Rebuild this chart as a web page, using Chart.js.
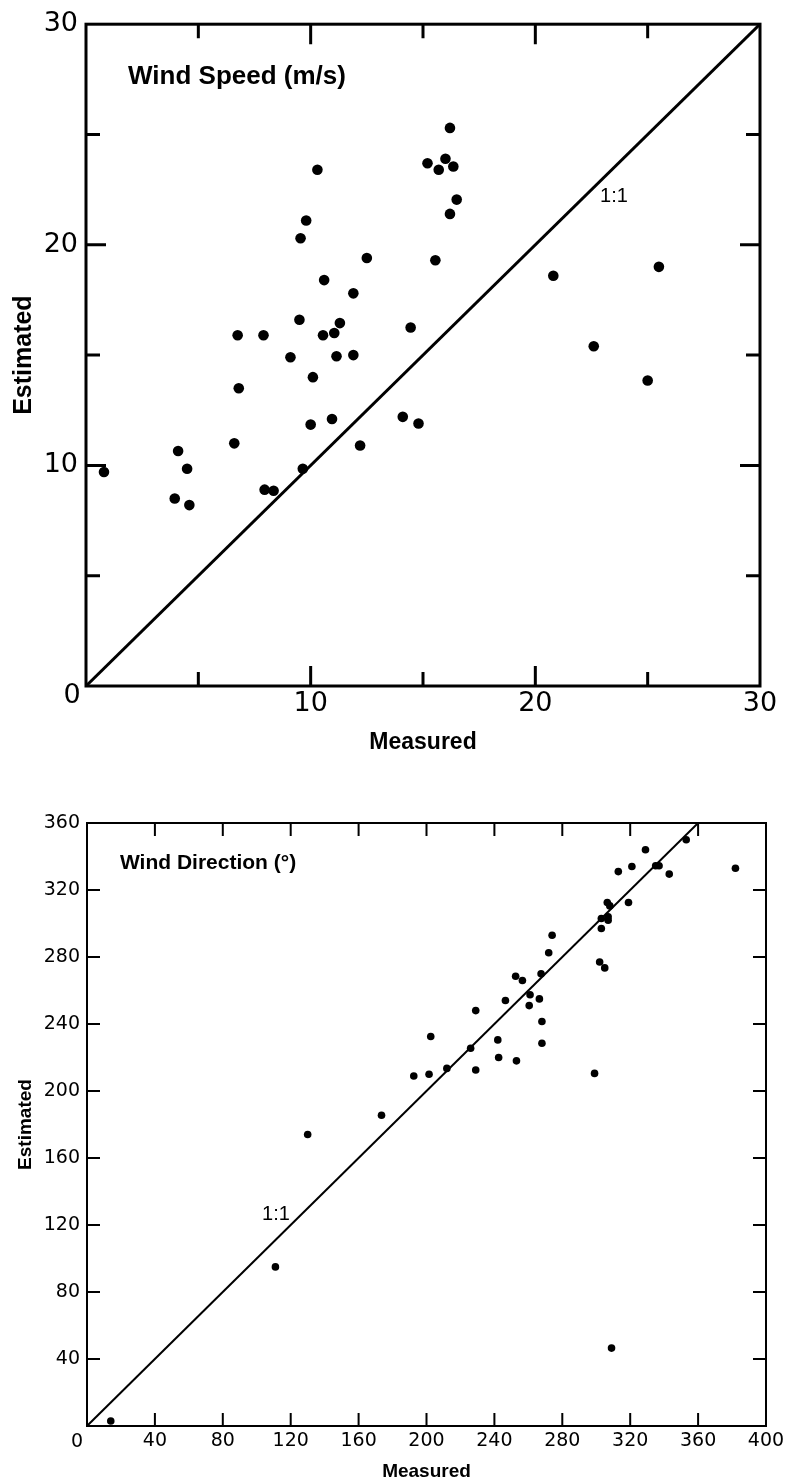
<!DOCTYPE html>
<html>
<head>
<meta charset="utf-8">
<title>Wind speed and direction: estimated vs measured</title>
<script src="https://cdn.jsdelivr.net/npm/chart.js@4.4.0/dist/chart.umd.min.js"></script>
<style>
    html, body { margin: 0; padding: 0; background: #fff; }
    body { width: 791px; height: 1481px; position: relative; overflow: hidden; }
    .panel { position: absolute; left: 0; width: 791px; }
    #speedPanel { top: 0; height: 760px; }
    #dirPanel { top: 760px; height: 721px; }
</style>
</head>
<body>
<div class="panel" id="speedPanel"><canvas id="speedChart"></canvas></div>
<div class="panel" id="dirPanel"><canvas id="dirChart"></canvas></div>
<script>
// Wind speed (m/s)
const speedMeasured = [
    10.3, 9.8, 9.55, 12.5, 10.6, 11.9, 9.5, 11.3, 11.05, 10.55, 6.75,
    7.9, 9.1, 11.15, 11.9, 10.1, 6.8, 10.95, 10.0, 14.1, 14.8, 6.6,
    12.2, 4.1, 4.5, 9.65, 0.8, 3.95, 4.6, 7.95, 8.35, 16.2, 15.2,
    16.0, 15.7, 16.35, 16.5, 16.2, 15.55, 14.45, 20.8, 25.5, 22.6, 25.0
];
const speedEstimated = [
    23.4, 21.1, 20.3, 19.4, 18.4, 17.8, 16.6, 16.45, 16.0, 15.9, 15.9,
    15.9, 14.9, 14.95, 15.0, 14.0, 13.5, 12.1, 11.85, 12.2, 11.9, 11.0,
    10.9, 10.65, 9.85, 9.85, 9.7, 8.5, 8.2, 8.9, 8.85, 25.3, 23.7,
    23.9, 23.4, 23.55, 22.05, 21.4, 19.3, 16.25, 18.6, 19.0, 15.4, 13.85
];
const speedTicks = [0, 10, 20, 30];
const speedMinorTicks = [5, 15, 25];
const speedOneToOne = [0, 30];

// Wind direction (degrees)
const dirMeasured = [
    353, 329, 321, 313, 335, 337, 343, 382, 306.5, 308, 319, 303, 307,
    307, 303, 302, 305, 299, 274, 272, 267.5, 252.5, 256.5, 261, 266.5,
    260.5, 268, 246.5, 229, 268, 242, 226, 242.5, 253, 229, 202.5, 212,
    201.5, 192.5, 173.5, 130, 111, 14, 309
];
const dirEstimated = [
    350, 344, 334, 331, 334.5, 334.5, 329.5, 333, 312.5, 310.5, 312.5, 303,
    304, 302, 297, 277, 273.5, 210.5, 293, 282.5, 270, 268.5, 266, 257.5,
    255, 251, 241.5, 254, 248, 228.5, 230.5, 225.5, 220, 218, 212.5, 232.5,
    213.5, 210, 209, 185.5, 174, 95, 3, 46.5
];
const dirXTicks = [0, 40, 80, 120, 160, 200, 240, 280, 320, 360, 400];
const dirYTicks = [0, 40, 80, 120, 160, 200, 240, 280, 320, 360];
const dirOneToOne = [0, 360];

/**
 * Frame, inward tick marks, in-plot texts and the shared corner "0"
 */
const frameAndTicks = {
    id: 'frameAndTicks',
    afterDraw(chart, args, opts) {
        const { ctx, chartArea: a, scales: { x, y } } = chart;
        ctx.save();
        ctx.strokeStyle = '#000';
        ctx.fillStyle = '#000';
        ctx.lineWidth = opts.lineWidth;
        ctx.lineCap = 'square';
        ctx.strokeRect(a.left, a.top, a.right - a.left, a.bottom - a.top);

        ctx.lineCap = 'butt';
        const xMarks = (vals, len) => vals.forEach(v => {
            if (v <= x.min || v >= x.max) return;
            const px = x.getPixelForValue(v);
            ctx.beginPath();
            ctx.moveTo(px, a.bottom); ctx.lineTo(px, a.bottom - len);
            ctx.moveTo(px, a.top); ctx.lineTo(px, a.top + len);
            ctx.stroke();
        });
        const yMarks = (vals, len) => vals.forEach(v => {
            if (v <= y.min || v >= y.max) return;
            const py = y.getPixelForValue(v);
            ctx.beginPath();
            ctx.moveTo(a.left, py); ctx.lineTo(a.left + len, py);
            ctx.moveTo(a.right, py); ctx.lineTo(a.right - len, py);
            ctx.stroke();
        });
        xMarks(opts.xMajor, opts.majorLen);
        xMarks(opts.xMinor || [], opts.minorLen);
        yMarks(opts.yMajor, opts.majorLen);
        yMarks(opts.yMinor || [], opts.minorLen);

        ctx.textBaseline = 'middle';
        (opts.labels || []).forEach(l => {
            ctx.font = l.font;
            ctx.textAlign = l.align;
            ctx.fillText(l.text, x.getPixelForValue(l.x), y.getPixelForValue(l.y));
        });

        ctx.font = opts.zeroFont;
        ctx.textAlign = 'center';
        ctx.fillText('0', a.left + opts.zeroOffset[0], a.bottom + opts.zeroOffset[1]);
        ctx.restore();
    }
};

function toPoints(xs, ys) {
    return xs.map((v, i) => ({ x: v, y: ys[i] }));
}

function axisTicks(values) {
    return function(scale) {
        scale.ticks = values.map(v => ({ value: v }));
    };
}

/**
 * Upper panel: wind speed
 */
function initSpeedChart() {
    const ctx = document.getElementById('speedChart');
    const tickFont = { family: 'DejaVu Sans', size: 27 };

    new Chart(ctx, {
        type: 'scatter',
        data: {
            datasets: [{
                data: toPoints(speedMeasured, speedEstimated),
                backgroundColor: '#000',
                borderWidth: 0,
                pointRadius: 5.3
            }, {
                type: 'line',
                data: toPoints(speedOneToOne, speedOneToOne),
                borderColor: '#000',
                borderWidth: 3,
                pointRadius: 0,
                fill: false
            }]
        },
        options: {
            responsive: true,
            maintainAspectRatio: false,
            animation: false,
            events: [],
            layout: { padding: { top: 19, right: 31, left: 0, bottom: 0 } },
            plugins: {
                legend: { display: false },
                tooltip: { enabled: false },
                frameAndTicks: {
                    lineWidth: 3,
                    xMajor: [10, 20], xMinor: speedMinorTicks,
                    yMajor: [10, 20], yMinor: speedMinorTicks,
                    majorLen: 20, minorLen: 14,
                    zeroFont: '27px "DejaVu Sans"',
                    zeroOffset: [-14, 10],
                    labels: [
                        { text: 'Wind Speed (m/s)', x: 1.87, y: 27.6, align: 'left', font: 'bold 26px "Liberation Sans"' },
                        { text: '1:1', x: 23.5, y: 22.2, align: 'center', font: '20px "Liberation Sans"' }
                    ]
                }
            },
            scales: {
                x: {
                    type: 'linear', min: 0, max: 30,
                    afterBuildTicks: axisTicks(speedTicks),
                    afterFit: function(scale) { scale.height = 74; },
                    grid: { display: false, drawTicks: false },
                    border: { display: false },
                    ticks: {
                        color: '#000', padding: 2, font: tickFont,
                        maxRotation: 0, autoSkip: false,
                        callback: v => v === 0 ? '' : v
                    },
                    title: {
                        display: true, text: 'Measured', color: '#000',
                        font: { family: 'Liberation Sans', size: 23, weight: 'bold' },
                        padding: { top: 0, bottom: 4 }
                    }
                },
                y: {
                    type: 'linear', min: 0, max: 30,
                    afterBuildTicks: axisTicks(speedTicks),
                    afterFit: function(scale) { scale.width = 86; },
                    grid: { display: false, drawTicks: false },
                    border: { display: false },
                    ticks: {
                        color: '#000', padding: 8, font: tickFont, autoSkip: false,
                        callback: v => v === 0 ? '' : v
                    },
                    title: {
                        display: true, text: 'Estimated', color: '#000',
                        font: { family: 'Liberation Sans', size: 25, weight: 'bold' },
                        padding: { top: 9, bottom: 0 }
                    }
                }
            }
        },
        plugins: [frameAndTicks]
    });
}

/**
 * Lower panel: wind direction
 */
function initDirChart() {
    const ctx = document.getElementById('dirChart');
    const tickFont = { family: 'DejaVu Sans', size: 19 };

    new Chart(ctx, {
        type: 'scatter',
        data: {
            datasets: [{
                data: toPoints(dirMeasured, dirEstimated),
                backgroundColor: '#000',
                borderWidth: 0,
                pointRadius: 3.8
            }, {
                type: 'line',
                data: toPoints(dirOneToOne, dirOneToOne),
                borderColor: '#000',
                borderWidth: 2,
                pointRadius: 0,
                fill: false
            }]
        },
        options: {
            responsive: true,
            maintainAspectRatio: false,
            animation: false,
            events: [],
            layout: { padding: { top: 63, right: 25, left: 0, bottom: 0 } },
            plugins: {
                legend: { display: false },
                tooltip: { enabled: false },
                frameAndTicks: {
                    lineWidth: 2,
                    xMajor: dirXTicks, yMajor: dirYTicks,
                    majorLen: 13, minorLen: 0,
                    zeroFont: '19px "DejaVu Sans"',
                    zeroOffset: [-10, 16],
                    labels: [
                        { text: 'Wind Direction (°)', x: 19.4, y: 336, align: 'left', font: 'bold 21px "Liberation Sans"' },
                        { text: '1:1', x: 111.3, y: 126.3, align: 'center', font: '20px "Liberation Sans"' }
                    ]
                }
            },
            scales: {
                x: {
                    type: 'linear', min: 0, max: 400,
                    afterBuildTicks: axisTicks(dirXTicks),
                    afterFit: function(scale) { scale.height = 55; },
                    grid: { display: false, drawTicks: false },
                    border: { display: false },
                    ticks: {
                        color: '#000', padding: 4, font: tickFont,
                        maxRotation: 0, autoSkip: false,
                        callback: v => v === 0 ? '' : v
                    },
                    title: {
                        display: true, text: 'Measured', color: '#000',
                        font: { family: 'Liberation Sans', size: 19, weight: 'bold', lineHeight: 1 },
                        padding: { top: 0, bottom: 0 }
                    }
                },
                y: {
                    type: 'linear', min: 0, max: 360,
                    afterBuildTicks: axisTicks(dirYTicks),
                    afterFit: function(scale) { scale.width = 87; },
                    grid: { display: false, drawTicks: false },
                    border: { display: false },
                    ticks: {
                        color: '#000', padding: 7, font: tickFont, autoSkip: false,
                        callback: v => v === 0 ? '' : v
                    },
                    title: {
                        display: true, text: 'Estimated', color: '#000',
                        font: { family: 'Liberation Sans', size: 19, weight: 'bold' },
                        padding: { top: 14, bottom: 0 }
                    }
                }
            }
        },
        plugins: [frameAndTicks]
    });
}

document.addEventListener('DOMContentLoaded', function() {
    initSpeedChart();
    initDirChart();
});
</script>
</body>
</html>
